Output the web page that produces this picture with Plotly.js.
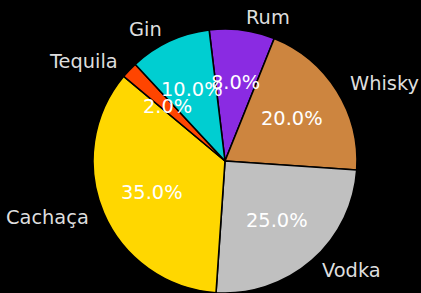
<!DOCTYPE html>
<html>
<head>
<meta charset="utf-8">
<script src="https://cdn.plot.ly/plotly-3.0.1.min.js"></script>
<style>html,body{margin:0;padding:0;background:#000;}#chart{width:421px;height:293px;}</style>
</head>
<body>
<div id="chart"></div>
<script>
const labels = ['Rum', 'Whisky', 'Vodka', 'Cachaça', 'Tequila', 'Gin'];
const values = [8, 20, 25, 35, 2, 10];
const colors = ['#8A2BE2', '#CD853F', '#C0C0C0', '#FFD700', '#FF4500', '#00CED1'];

const W = 421, H = 293;
const margin = {l: 29, r: 0, t: 29, b: 0};
const plotW = W - margin.l - margin.r;
const plotH = H - margin.t - margin.b;
const radius = Math.min(plotW, plotH) / 2;
const rotation = -6.9;
const fontFam = 'DejaVu Sans, sans-serif';
const fontSize = 19.4;

const total = values.reduce((a, b) => a + b, 0);
const annotations = [];
let cum = 0;
values.forEach((v, i) => {
  const mid = cum + v / 2;
  cum += v;
  const a = (rotation + 360 * mid / total) * Math.PI / 180;
  const s = Math.sin(a), c = Math.cos(a);
  // outer label at 1.1 r
  const rl = 1.1 * radius;
  annotations.push({
    xref: 'paper', yref: 'paper',
    x: 0.5 + rl * s / plotW, y: 0.5 + rl * c / plotH,
    text: labels[i], showarrow: false,
    xanchor: s > 0 ? 'left' : 'right', yanchor: 'middle',
    font: {family: fontFam, size: fontSize, color: '#dedede'}
  });
  // percent at 0.6 r
  const rp = 0.6 * radius;
  annotations.push({
    xref: 'paper', yref: 'paper',
    x: 0.5 + rp * s / plotW, y: 0.5 + rp * c / plotH,
    text: (v / total * 100).toFixed(1) + '%', showarrow: false,
    xanchor: 'center', yanchor: 'middle',
    font: {family: fontFam, size: fontSize, color: '#ffffff'}
  });
});

const data = [{
  type: 'pie',
  labels: labels,
  values: values,
  sort: false,
  direction: 'clockwise',
  rotation: rotation,
  textinfo: 'none',
  hoverinfo: 'label+percent',
  marker: {colors: colors, line: {color: '#000000', width: 1.6}},
  showlegend: false
}];

const layout = {
  width: W, height: H,
  margin: margin,
  paper_bgcolor: '#000000',
  plot_bgcolor: '#000000',
  showlegend: false,
  annotations: annotations,
  font: {family: fontFam}
};

Plotly.newPlot('chart', data, layout, {displayModeBar: false, staticPlot: true});
</script>
</body>
</html>
